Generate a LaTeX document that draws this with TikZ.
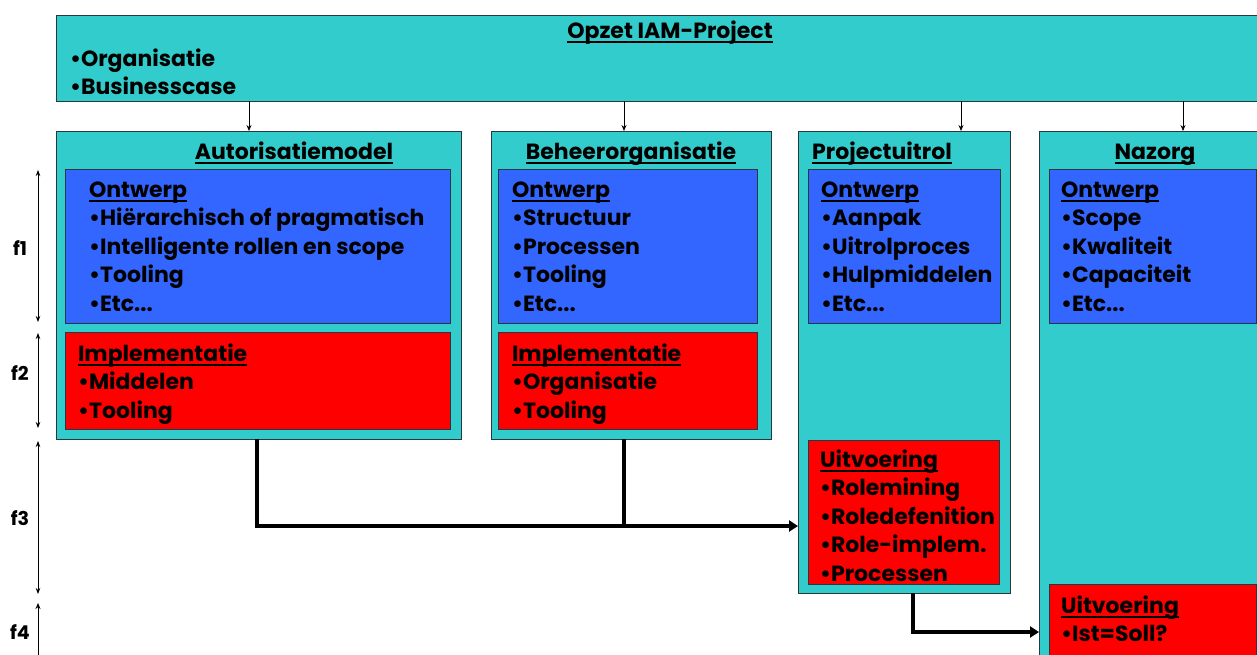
\documentclass[tikz,border=0pt]{standalone}
\usepackage{fontspec}
\setmainfont{Poppins}
\usetikzlibrary{arrows.meta}
\definecolor{cyanbg}{RGB}{51,204,204}
\definecolor{bluebg}{RGB}{51,102,255}
\definecolor{redbg}{RGB}{255,0,0}
\definecolor{edgec}{RGB}{40,55,65}
\newcommand\hdl[1]{\setbox0=\hbox{#1}\rlap{\copy0}\rule[-4.5pt]{\wd0}{2pt}}
\newcommand\fs{\bfseries\fontsize{22}{28.6}\selectfont}
\tikzset{
  box/.style={draw=edgec, line width=0.9pt, anchor=north west, inner sep=0pt, outer sep=0pt},
  outerbox/.style={box, fill=cyanbg},
  bluebox/.style={box, fill=bluebg},
  redbox/.style={box, fill=redbg},
  txt/.style={anchor=north west, inner sep=0pt, outer sep=0pt, align=left, font=\fs},
  ttl/.style={anchor=base, inner sep=0pt, font=\fs},
  thinarrow/.style={-{Stealth[length=6pt,width=5pt]}, line width=0.8pt},
  thickln/.style={line width=4pt},
  thickarrow/.style={line width=4pt, -{Triangle[length=9pt,width=11pt]}},
  farrow/.style={{Stealth[length=6pt,width=4.5pt]}-{Stealth[length=6pt,width=4.5pt]}, line width=0.8pt},
  flabel/.style={anchor=center, inner sep=0pt, font=\bfseries\fontsize{19}{20}\selectfont},
}
\newcommand\st{\rule{0pt}{18pt}}
\begin{document}
\begin{tikzpicture}[x=1pt,y=-1pt]
\useasboundingbox (0,0) rectangle (1257,654);
\fill[white] (0,0) rectangle (1257,654);

% top box
\node[outerbox, minimum width=1230, minimum height=86] (top) at (56,15) {};
\node[ttl] (toptitle) at (670,38) {\hdl{Opzet IAM-Project}};
\node[txt] (toptxt) at (70,48) {\st•Organisatie\\•Businesscase};

% column boxes
\node[outerbox, minimum width=405, minimum height=308] (auto) at (56,131) {};
\node[outerbox, minimum width=280, minimum height=308] (beheer) at (491,131) {};
\node[outerbox, minimum width=212, minimum height=462] (proj) at (798,131) {};
\node[outerbox, minimum width=240, minimum height=540] (naz) at (1039,131) {};

\node[ttl] (autot) at (294,159) {\hdl{Autorisatiemodel}};
\node[ttl] (beheert) at (631,159) {\hdl{Beheerorganisatie}};
\node[ttl, anchor=base west] (projt) at (812,159) {\hdl{Projectuitrol}};
\node[ttl] (nazt) at (1155,159) {\hdl{Nazorg}};

% blue boxes
\node[bluebox, minimum width=385, minimum height=154] (autob) at (65,169) {};
\node[bluebox, minimum width=259, minimum height=154] (beheerb) at (498,169) {};
\node[bluebox, minimum width=192, minimum height=154] (projb) at (808,169) {};
\node[bluebox, minimum width=207, minimum height=154] (nazb) at (1049,169) {};

% red boxes
\node[redbox, minimum width=385, minimum height=97] (autor) at (65,332) {};
\node[redbox, minimum width=259, minimum height=97] (beheerr) at (498,332) {};
\node[redbox, minimum width=191, minimum height=144] (projr) at (808,440) {};
\node[redbox, minimum width=207, minimum height=80] (nazr) at (1049,584) {};

% texts
\node[txt] (autobt) at (89,179) {\st\hdl{Ontwerp}\\•Hiërarchisch of pragmatisch\\•Intelligente rollen en scope\\•Tooling\\•Etc...};
\node[txt] (beheerbt) at (512,179) {\st\hdl{Ontwerp}\\•Structuur\\•Processen\\•Tooling\\•Etc...};
\node[txt] (projbt) at (821,179) {\st\hdl{Ontwerp}\\•Aanpak\\•Uitrolproces\\•Hulpmiddelen\\•Etc...};
\node[txt] (nazbt) at (1061,179) {\st\hdl{Ontwerp}\\•Scope\\•Kwaliteit\\•Capaciteit\\•Etc...};

\node[txt] (autort) at (78,343) {\st\hdl{Implementatie}\\•Middelen\\•Tooling};
\node[txt] (beheerrt) at (512,343) {\st\hdl{Implementatie}\\•Organisatie\\•Tooling};
\node[txt] (projrt) at (820,449) {\st\hdl{Uitvoering}\\•Rolemining\\•Roledefenition\\•Role-implem.\\•Processen};
\node[txt] (nazrt) at (1061,595) {\st\hdl{Uitvoering}\\•Ist=Soll?};

% top arrows
\draw[thinarrow] (top.south -| 249,0) -- (auto.north -| 249,0);
\draw[thinarrow] (top.south -| 624,0) -- (beheer.north -| 624,0);
\draw[thinarrow] (top.south -| 961,0) -- (proj.north -| 961,0);
\draw[thinarrow] (top.south -| 1183,0) -- (naz.north -| 1183,0);

% connectors
\coordinate (j1) at (624,526);
\coordinate (j2) at (913,632);
\draw[thickarrow] (auto.south -| 257,0) |- (proj.west |- j1);
\draw[thickln] (beheer.south -| j1) -- (j1);
\draw[thickarrow] (proj.south -| j2) |- (naz.west |- j2);

% phase arrows
\coordinate (f1a) at (38,170); \coordinate (f1b) at (38,322);
\coordinate (f2a) at (38,333); \coordinate (f2b) at (38,428);
\coordinate (f3a) at (38,441); \coordinate (f3b) at (38,594);
\coordinate (f4a) at (38,603); \coordinate (f4b) at (38,660);
\draw[farrow] (f1a) -- (f1b);
\draw[farrow] (f2a) -- (f2b);
\draw[farrow] (f3a) -- (f3b);
\draw[thinarrow] (f4b) -- (f4a);
\node[flabel] (fl1) at (20,248) {f1};
\node[flabel] (fl2) at (20,373) {f2};
\node[flabel] (fl3) at (20,518) {f3};
\node[flabel] (fl4) at (20,632) {f4};
\end{tikzpicture}
\end{document}
